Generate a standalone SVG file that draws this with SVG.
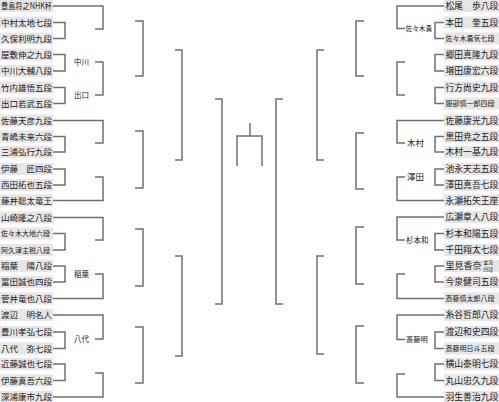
<svg xmlns="http://www.w3.org/2000/svg" width="499" height="402" viewBox="0 0 499 402">
<style>
.b{fill:#e6e6e6}
.t{font-family:"Noto Sans CJK JP","Noto Sans CJK SC",sans-serif;font-size:8.5px;fill:#222}
.r{font-size:8.8px}
.s{font-size:7px}
.w{font-family:"Noto Sans CJK JP","Noto Sans CJK SC",sans-serif;font-size:7.5px;fill:#222}
.c{fill:none;stroke:#707070;stroke-width:1.5}
</style>
<rect width="499" height="402" fill="#fff"/>
<g id="connectors" class="c">
<path d="M53 22.5H65V38.5H53M53 54.5H65V71H53M53 87.5H65V103.5H53M53 136.5H65V152H53M53 169H65V185H53M53 233.5H65V250H53M53 266H65V282H53M53 332H65V348.5H53M53 364H65V380.5H53"/>
<path d="M53 6H103V29H95M95 62H103V95H95M53 120.5H103V143H95M95 177H103V200.5H53M53 217.5H103V240H95M95 274H103V298.5H53M53 315H103V339H95M95 373H103V397H53"/>
<path d="M135 21H143V76H135M135 131H143V188H135M135 229H143V286H135M135 327H143V383H135"/>
<path d="M175 50H182V160H175M175 256H182V356H175"/>
<path d="M215 99H222V304H215"/>
<path d="M250 123V136M237 166V136H262V166"/>
<path d="M283 99H276V304H283"/>
<path d="M324 50H317V160H324M324 256H317V354H324"/>
<path d="M364 21H356V76H364M364 133H356V189H364M364 227H356V284H364M364 326H356V383H364"/>
<path d="M444 6H397V28.5H405M405 62H397V95H405M444 120.5H397V143H405M405 177H397V200.5H444M444 217H397V240H405M405 274H397V298.5H444M444 315H397V339.5H405M405 374H397V397H444"/>
<path d="M444 22.5H435V38.5H444M444 54.5H435V71H444M444 87.5H435V103.5H444M444 136.5H435V152H444M444 169H435V185H444M444 233.5H435V250H444M444 266H435V282H444M444 332H435V348.5H444M444 364H435V380.5H444"/>
</g>
<g id="L0"><rect class="b" x="0" y="0" width="53" height="12"/><text class="t" x="1" y="9" textLength="51" lengthAdjust="spacingAndGlyphs">豊島将之NHK杯</text></g>
<g id="L1"><rect class="b" x="0" y="16.5" width="53" height="12"/><text class="t" x="1" y="25.5">中村太地七段</text></g>
<g id="L2"><rect class="b" x="0" y="32.5" width="53" height="12"/><text class="t" x="1" y="41.5">久保利明九段</text></g>
<g id="L3"><rect class="b" x="0" y="48.5" width="53" height="12"/><text class="t" x="1" y="57.5">屋敷伸之九段</text></g>
<g id="L4"><rect class="b" x="0" y="65" width="53" height="12"/><text class="t" x="1" y="74">中川大輔八段</text></g>
<g id="L5"><rect class="b" x="0" y="81.5" width="53" height="12"/><text class="t" x="1" y="90.5">竹内雄悟五段</text></g>
<g id="L6"><rect class="b" x="0" y="97.5" width="53" height="12"/><text class="t" x="1" y="106.5">出口若武五段</text></g>
<g id="L7"><rect class="b" x="0" y="114.5" width="53" height="12"/><text class="t" x="1" y="123.5">佐藤天彦九段</text></g>
<g id="L8"><rect class="b" x="0" y="130.5" width="53" height="12"/><text class="t" x="1" y="139.5">青嶋未来六段</text></g>
<g id="L9"><rect class="b" x="0" y="146" width="53" height="12"/><text class="t" x="1" y="155">三浦弘行九段</text></g>
<g id="L10"><rect class="b" x="0" y="163" width="53" height="12"/><text class="t" x="1" y="172">伊藤　匠四段</text></g>
<g id="L11"><rect class="b" x="0" y="179" width="53" height="12"/><text class="t" x="1" y="188">西田拓也五段</text></g>
<g id="L12"><rect class="b" x="0" y="194.5" width="53" height="12"/><text class="t" x="1" y="203.5">藤井聡太竜王</text></g>
<g id="L13"><rect class="b" x="0" y="211.5" width="53" height="12"/><text class="t" x="1" y="220.5">山崎隆之八段</text></g>
<g id="L14"><rect class="b" x="0" y="227.5" width="53" height="12"/><text class="t s" x="1" y="236">佐々木大地六段</text></g>
<g id="L15"><rect class="b" x="0" y="244" width="53" height="12"/><text class="t s" x="1" y="252.5">阿久津主税八段</text></g>
<g id="L16"><rect class="b" x="0" y="260" width="53" height="12"/><text class="t" x="1" y="269">稲葉　陽八段</text></g>
<g id="L17"><rect class="b" x="0" y="276" width="53" height="12"/><text class="t" x="1" y="285">冨田誠也四段</text></g>
<g id="L18"><rect class="b" x="0" y="292.5" width="53" height="12"/><text class="t" x="1" y="301.5">菅井竜也八段</text></g>
<g id="L19"><rect class="b" x="0" y="309" width="53" height="12"/><text class="t" x="1" y="318">渡辺　明名人</text></g>
<g id="L20"><rect class="b" x="0" y="326" width="53" height="12"/><text class="t" x="1" y="335">豊川孝弘七段</text></g>
<g id="L21"><rect class="b" x="0" y="342.5" width="53" height="12"/><text class="t" x="1" y="351.5">八代　弥七段</text></g>
<g id="L22"><rect class="b" x="0" y="358" width="53" height="12"/><text class="t" x="1" y="367">近藤誠也七段</text></g>
<g id="L23"><rect class="b" x="0" y="374.5" width="53" height="12"/><text class="t" x="1" y="383.5">伊藤真吾六段</text></g>
<g id="L24"><rect class="b" x="0" y="391" width="53" height="12"/><text class="t" x="1" y="400">深浦康市九段</text></g>
<g id="WL1"><text class="w" x="74" y="64.7">中川</text></g>
<g id="WL2"><text class="w" x="74" y="97.7">出口</text></g>
<g id="WL3"><text class="w" x="74" y="276.7">稲葉</text></g>
<g id="WL4"><text class="w" x="74" y="342">八代</text></g>
<g id="R0"><rect class="b" x="444" y="0" width="55" height="12"/><text class="t r" x="445.5" y="9">松尾　歩八段</text></g>
<g id="R1"><rect class="b" x="444" y="16.5" width="55" height="12"/><text class="t r" x="445.5" y="25.5">本田　奎五段</text></g>
<g id="R2"><rect class="b" x="444" y="32.5" width="55" height="12"/><text class="t r s" x="445.5" y="41">佐々木勇気七段</text></g>
<g id="R3"><rect class="b" x="444" y="48.5" width="55" height="12"/><text class="t r" x="445.5" y="57.5">郷田真隆九段</text></g>
<g id="R4"><rect class="b" x="444" y="65" width="55" height="12"/><text class="t r" x="445.5" y="74">増田康宏六段</text></g>
<g id="R5"><rect class="b" x="444" y="81.5" width="55" height="12"/><text class="t r" x="445.5" y="90.5">行方尚史九段</text></g>
<g id="R6"><rect class="b" x="444" y="97.5" width="55" height="12"/><text class="t r s" x="445.5" y="106">服部慎一郎四段</text></g>
<g id="R7"><rect class="b" x="444" y="114.5" width="55" height="12"/><text class="t r" x="445.5" y="123.5">佐藤康光九段</text></g>
<g id="R8"><rect class="b" x="444" y="130.5" width="55" height="12"/><text class="t r" x="445.5" y="139.5">黒田尭之五段</text></g>
<g id="R9"><rect class="b" x="444" y="146" width="55" height="12"/><text class="t r" x="445.5" y="155">木村一基九段</text></g>
<g id="R10"><rect class="b" x="444" y="163" width="55" height="12"/><text class="t r" x="445.5" y="172">池永天志五段</text></g>
<g id="R11"><rect class="b" x="444" y="179" width="55" height="12"/><text class="t r" x="445.5" y="188">澤田真吾七段</text></g>
<g id="R12"><rect class="b" x="444" y="194.5" width="55" height="12"/><text class="t r" x="445.5" y="203.5">永瀬拓矢王座</text></g>
<g id="R13"><rect class="b" x="444" y="211" width="55" height="12"/><text class="t r" x="445.5" y="220">広瀬章人八段</text></g>
<g id="R14"><rect class="b" x="444" y="227.5" width="55" height="12"/><text class="t r" x="445.5" y="236.5">杉本和陽五段</text></g>
<g id="R15"><rect class="b" x="444" y="244" width="55" height="12"/><text class="t r" x="445.5" y="253">千田翔太七段</text></g>
<g id="R16"><rect class="b" x="444" y="260" width="55" height="12"/><text class="t" x="445.5" y="269.3" style="font-size:9px">里見香奈</text><text class="t" x="483.5" y="264.4" style="font-size:4.8px">女流</text><text class="t" x="483.5" y="271.2" style="font-size:4.8px">四冠</text></g>
<g id="R17"><rect class="b" x="444" y="276" width="55" height="12"/><text class="t r" x="445.5" y="285">今泉健司五段</text></g>
<g id="R18"><rect class="b" x="444" y="292.5" width="55" height="12"/><text class="t r s" x="445.5" y="301">斎藤慎太郎八段</text></g>
<g id="R19"><rect class="b" x="444" y="309" width="55" height="12"/><text class="t r" x="445.5" y="318">糸谷哲郎八段</text></g>
<g id="R20"><rect class="b" x="444" y="326" width="55" height="12"/><text class="t r" x="445.5" y="335">渡辺和史四段</text></g>
<g id="R21"><rect class="b" x="444" y="342.5" width="55" height="12"/><text class="t r s" x="445.5" y="351">斎藤明日斗五段</text></g>
<g id="R22"><rect class="b" x="444" y="358" width="55" height="12"/><text class="t r" x="445.5" y="367">横山泰明七段</text></g>
<g id="R23"><rect class="b" x="444" y="374.5" width="55" height="12"/><text class="t r" x="445.5" y="383.5">丸山忠久九段</text></g>
<g id="R24"><rect class="b" x="444" y="391" width="55" height="12"/><text class="t r" x="445.5" y="400">羽生善治九段</text></g>
<g id="WR1"><text class="w" x="405.5" y="31" style="font-size:6.7px">佐々木勇</text></g>
<g id="WR2"><text class="w" x="407" y="146" style="font-size:8.5px">木村</text></g>
<g id="WR3"><text class="w" x="407" y="180" style="font-size:8.5px">澤田</text></g>
<g id="WR4"><text class="w" x="406" y="242.7">杉本和</text></g>
<g id="WR5"><text class="w" x="406" y="342.2" style="font-size:7.3px">斎藤明</text></g>
</svg>
